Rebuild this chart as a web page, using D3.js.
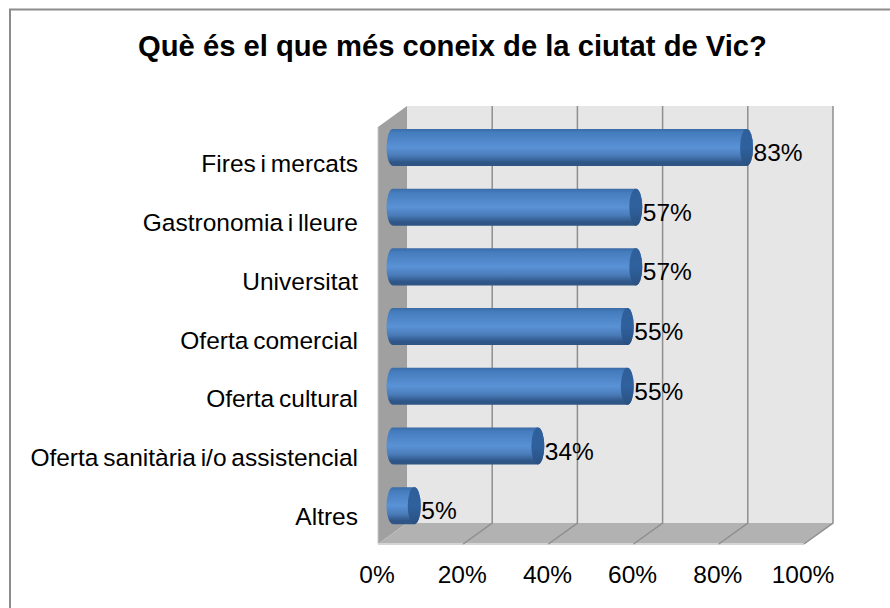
<!DOCTYPE html>
<html>
<head>
<meta charset="utf-8">
<script src="https://cdn.jsdelivr.net/npm/d3@7"></script>
<style>
html, body { margin: 0; padding: 0; background: #fff; }
svg { display: block; }
text { font-family: "Liberation Sans", Arial, sans-serif; fill: #000; }
</style>
</head>
<body>
<svg width="890" height="608"></svg>
<script>
var title = "Què és el que més coneix de la ciutat de Vic?";
var categories = ["Fires i mercats", "Gastronomia i lleure", "Universitat", "Oferta comercial", "Oferta cultural", "Oferta sanitària i/o assistencial", "Altres"];
var values = [83, 57, 57, 55, 55, 34, 5];
var ticks = [0, 20, 40, 60, 80, 100];

var svg = d3.select("svg");
var depthX = 29, depthY = 21;           // 3d offset between back wall and front edge

// frame
svg.append("path").attr("d", "M10,608V9.5H890").attr("fill", "none").attr("stroke", "#8c8c8c").attr("stroke-width", 2);

svg.append("text").attr("x", 452.5).attr("y", 56).attr("text-anchor", "middle")
  .attr("font-size", 29.2).attr("font-weight", "bold").text(title);

var x = d3.scaleLinear().domain([0, 100]).range([407, 833]);
var y = d3.scaleBand().domain(categories).range([117.6, 535.6]).paddingInner(0.38).paddingOuter(0.19);
// category labels sit a little off the bar centres in the original
var yLabel = d3.scalePoint().domain(categories).range([172, 525]);
var top0 = 106, bottom0 = 523;

// bar gradients
var defs = svg.append("defs");
var grad = defs.append("linearGradient").attr("id", "barGrad").attr("x1", 0).attr("y1", 0).attr("x2", 0).attr("y2", 1);
[[0, "#3a6ba6"], [0.1, "#447cbd"], [0.5, "#5a92d6"], [0.72, "#4a7cb9"], [0.9, "#2f5688"], [1, "#2f5584"]].forEach(function(s) {
  grad.append("stop").attr("offset", s[0]).attr("stop-color", s[1]);
});
var capGrad = defs.append("linearGradient").attr("id", "capGrad").attr("x1", 0).attr("y1", 0).attr("x2", 0).attr("y2", 1);
[[0, "#2f5f99"], [0.5, "#2f619e"], [1, "#2a5080"]].forEach(function(s) {
  capGrad.append("stop").attr("offset", s[0]).attr("stop-color", s[1]);
});

// back wall
svg.append("rect").attr("x", x(0)).attr("y", top0).attr("width", x(100) - x(0)).attr("height", bottom0 - top0).attr("fill", "#e6e6e6");
// left wall
svg.append("path").attr("fill", "#a0a0a0")
  .attr("d", "M" + x(0) + "," + top0 + "L" + (x(0) - depthX) + "," + (top0 + depthY) + "V" + (bottom0 + depthY) + "L" + x(0) + "," + bottom0 + "Z");
svg.append("line").attr("x1", x(0) - depthX).attr("x2", x(0) - depthX).attr("y1", top0 + depthY).attr("y2", bottom0 + depthY).attr("stroke", "#c8c8c8").attr("stroke-width", 1);
// floor
svg.append("path").attr("fill", "#b2b2b2")
  .attr("d", "M" + x(0) + "," + bottom0 + "H" + x(100) + "L" + (x(100) - depthX) + "," + (bottom0 + depthY) + "H" + (x(0) - depthX) + "Z");
svg.append("line").attr("x1", x(0) - depthX).attr("x2", x(100) - depthX).attr("y1", bottom0 + depthY).attr("y2", bottom0 + depthY).attr("stroke", "#d4d4d4").attr("stroke-width", 2);

// gridlines on wall and floor
svg.selectAll(".grid").data(ticks.slice(1)).enter().append("path").attr("class", "grid")
  .attr("fill", "none").attr("stroke", "#8f8f8f").attr("stroke-width", 1.5)
  .attr("d", function(d) {
    return "M" + x(d) + "," + top0 + "V" + bottom0 + "L" + (x(d) - depthX) + "," + (bottom0 + depthY);
  });

// bars, drawn as cylinders
var barOffset = -14;  // bar plane sits between the wall and the front edge
var rx = 6.5;
var g = svg.selectAll(".bar").data(categories).enter().append("g").attr("class", "bar");
g.append("path").attr("fill", "url(#barGrad)").attr("d", function(d, i) {
  var x0 = x(0) + barOffset, x1 = x(values[i]) + barOffset, t = y(d), h = y.bandwidth();
  return "M" + x0 + "," + t + "H" + x1 + "A" + rx + "," + h / 2 + " 0 0 1 " + x1 + "," + (t + h) + "H" + x0 + "A" + rx + "," + h / 2 + " 0 0 1 " + x0 + "," + t + "Z";
});
g.append("ellipse").attr("fill", "url(#capGrad)")
  .attr("cx", function(d, i) { return x(values[i]) + barOffset; })
  .attr("cy", function(d) { return y(d) + y.bandwidth() / 2; })
  .attr("rx", rx).attr("ry", function() { return y.bandwidth() / 2; });

// value labels
svg.selectAll(".val").data(categories).enter().append("text").attr("class", "val")
  .attr("x", function(d, i) { return x(values[i]) + barOffset + rx + 0.5; })
  .attr("y", function(d) { return y(d) + y.bandwidth() / 2 + 13.5; })
  .attr("font-size", 24.5)
  .text(function(d, i) { return values[i] + "%"; });

// category labels
svg.selectAll(".cat").data(categories).enter().append("text").attr("class", "cat")
  .attr("x", 358).attr("text-anchor", "end")
  .attr("y", function(d) { return yLabel(d); })
  .attr("font-size", 24.5).attr("word-spacing", -2)
  .text(function(d) { return d; });

// x tick labels
svg.selectAll(".tick").data(ticks).enter().append("text").attr("class", "tick")
  .attr("x", function(d) { return x(d) - depthX - 1; })
  .attr("y", 583).attr("text-anchor", "middle")
  .attr("font-size", 24.5)
  .text(function(d) { return d + "%"; });
</script>
</body>
</html>
